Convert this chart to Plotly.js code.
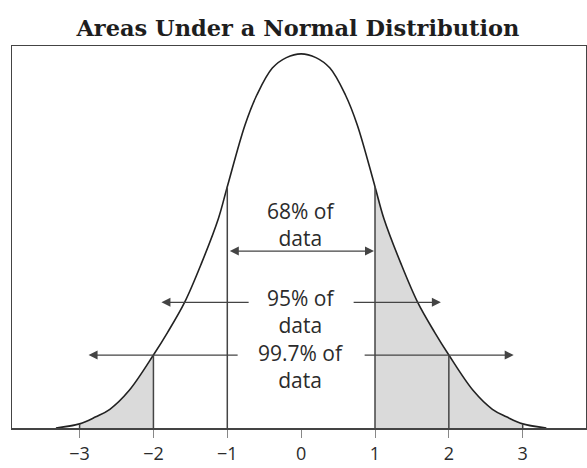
<!DOCTYPE html>
<html>
<head>
<meta charset="utf-8">
<script src="https://cdn.plot.ly/plotly-3.0.1.min.js"></script>
<style>html,body{margin:0;padding:0;background:#fff;}#chart{width:587px;height:468px;}</style>
</head>
<body>
<div id="chart"></div>
<script>
// Curve (x in standard deviations, height relative to the peak)
const curveX = [-3.32,-3.0,-2.78,-2.59,-2.33,-2.0,-1.81,-1.58,-1.35,-1.12,-1.0,-0.76,-0.6,-0.39,-0.2,0,0.2,0.39,0.6,0.76,1.0,1.12,1.35,1.58,1.81,2.0,2.33,2.59,2.78,3.0,3.32];
const curveY = [0,0.011,0.03,0.05,0.10,0.195,0.255,0.335,0.44,0.56,0.645,0.81,0.89,0.962,0.99,1.0,0.99,0.962,0.89,0.81,0.645,0.56,0.44,0.335,0.255,0.195,0.10,0.05,0.03,0.011,0];

// Shaded bands under the curve
const shadedRanges = [[-3,-2],[1,3]];

// Vertical guide lines
const guideLines = [-3,-2,-1,1,2,3];

// Tick labels
const tickVals = [-3,-2,-1,0,1,2,3];
const tickText = ["\u22123","\u22122","\u22121","0","1","2","3"];

// Interval labels
const intervalSd = [1,2,3];
const pctLabels = ["68% of","95% of","99.7% of"];
const secondLine = ["data","data","data"];

const title = "Areas Under a Normal Distribution";

const ink = "#2b2b2b";
const lineInk = "#444";
const txtFont = {family: "Open Sans, Noto Sans, sans-serif", size: 21, color: ink};

function curveAt(x){ const i = curveX.indexOf(x); return i >= 0 ? curveY[i] : 1; }

const traces = [];
shadedRanges.forEach(r => {
  const xs = [], ys = [];
  curveX.forEach((x,i) => { if (x >= r[0] && x <= r[1]) { xs.push(x); ys.push(curveY[i]); } });
  traces.push({x: xs, y: ys, type: "scatter", mode: "lines", fill: "tozeroy",
    fillcolor: "#dadada", line: {width: 0, shape: "spline", smoothing: 1}, hoverinfo: "skip", showlegend: false});
});
traces.push({x: curveX, y: curveY, type: "scatter", mode: "lines",
  line: {color: "#222", width: 1.6, shape: "spline", smoothing: 1}, hoverinfo: "skip", showlegend: false});

const lineTop = 0.561;
const shapes = guideLines.map(k => ({type: "line", xref: "x", yref: "y", x0: k, x1: k, y0: 0,
  y1: Math.abs(k) === 1 ? curveAt(k) : Math.min(lineTop, curveAt(k)), line: {color: lineInk, width: 1.5}}));

// Layout positions for the interval labels and arrows
const textY = [0.543, 0.311, 0.164];
const arrowY = [0.473, 0.336, 0.195];
const halfGap = [0, 51, 62];
const tipGap = [1, 8, 9];

const annotations = [];
intervalSd.forEach((k, i) => {
  annotations.push({x: 0, y: textY[i], xref: "x", yref: "y", text: pctLabels[i] + "<br>" + secondLine[i],
    showarrow: false, font: txtFont, borderpad: 0, align: "center"});
  const arrowStyle = {showarrow: true, arrowhead: 2, arrowsize: 1.5, arrowwidth: 1.2, arrowcolor: lineInk,
    xref: "x", yref: "y", axref: "x", ayref: "y", text: ""};
  if (halfGap[i] === 0) {
    annotations.push(Object.assign({}, arrowStyle, {x: k, y: arrowY[i], ax: -k, ay: arrowY[i],
      arrowside: "end+start", standoff: tipGap[i], startstandoff: tipGap[i]}));
  } else {
    [-1, 1].forEach(s => {
      annotations.push(Object.assign({}, arrowStyle, {x: s * k, y: arrowY[i], ax: 0, ay: arrowY[i],
        standoff: tipGap[i], startstandoff: halfGap[i]}));
    });
  }
});

const layout = {
  width: 587, height: 468,
  margin: {l: 12, r: 1, t: 46, b: 40},
  paper_bgcolor: "#fff", plot_bgcolor: "#fff",
  title: {text: "<b>" + title + "</b>", x: 0.498, xref: "paper", y: 1 - 28/468, yref: "container", yanchor: "middle",
    font: {family: "DejaVu Serif, serif", size: 22.5, color: "#1e1e1e"}},
  xaxis: {range: [-3.915, 3.857], tickvals: tickVals, ticktext: tickText, ticks: "outside", ticklen: 8,
    tickcolor: "#888", tickwidth: 1, showgrid: false, zeroline: false, showline: true, mirror: true,
    linecolor: lineInk, linewidth: 1.5, ticklabelstandoff: 1,
    tickfont: {family: "Open Sans, Noto Sans, sans-serif", size: 18, color: ink}, fixedrange: true},
  yaxis: {range: [0, 1.021], showticklabels: false, ticks: "", showgrid: false, zeroline: false,
    showline: true, mirror: true, linecolor: lineInk, linewidth: 1.5, fixedrange: true},
  shapes: shapes,
  annotations: annotations
};

Plotly.newPlot("chart", traces, layout, {displayModeBar: false, staticPlot: true});
</script>
</body>
</html>
